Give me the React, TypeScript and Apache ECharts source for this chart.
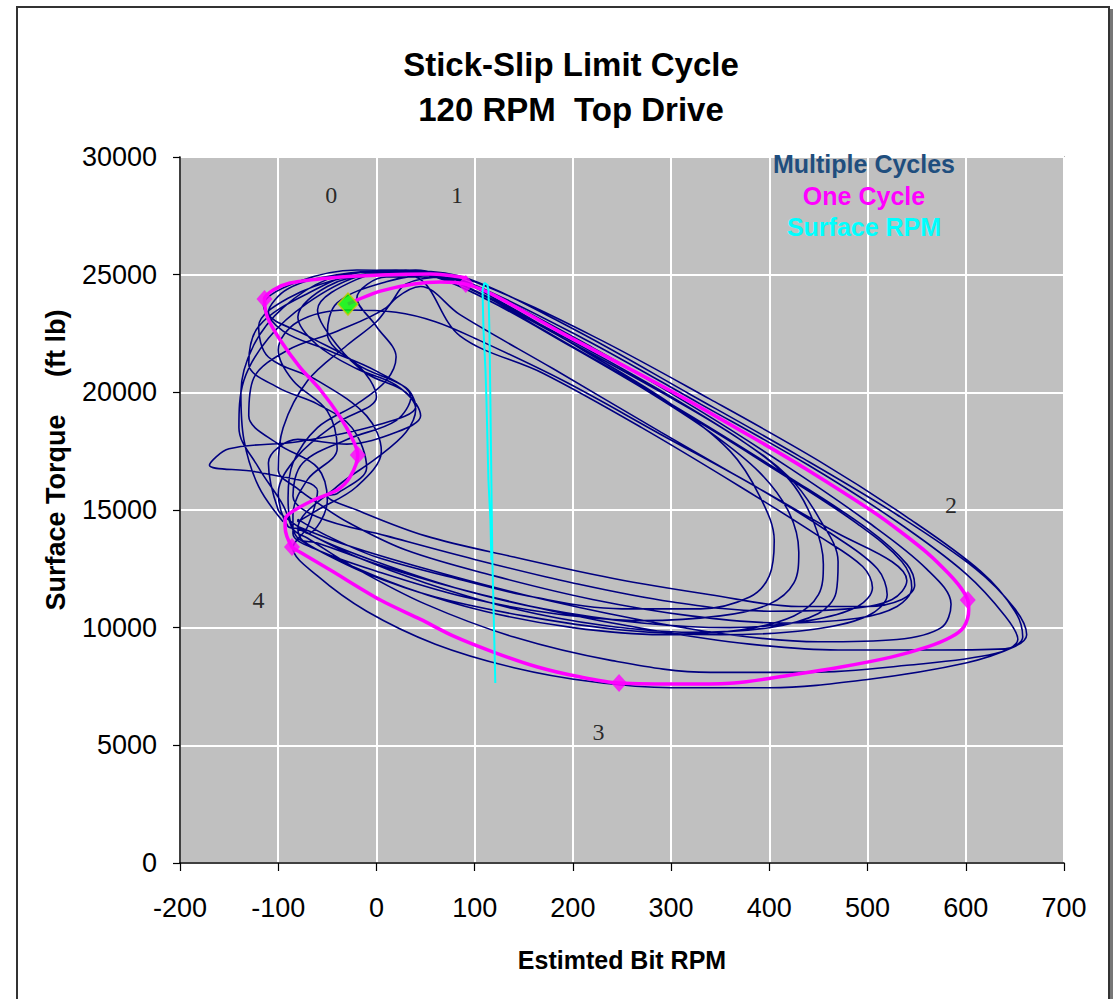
import React, { useEffect, useRef } from "react";
import * as echarts from "echarts";

// ---- Data ----
const cycle1: number[][] = [
  [-95, 14500], [-120, 16000], [-135, 18000], [-138, 20000], [-125, 22000], [-95, 23600], [-50, 24800], [0, 25150], [40, 25150],
  [95, 24800], [200, 22700], [320, 19900], [430, 17300], [530, 14800], [610, 12500], [650, 10800], [662, 9700], [650, 9200],
  [600, 8500], [500, 7800], [400, 7450], [300, 7450], [220, 7700], [140, 8300], [60, 9300], [-10, 10700], [-60, 12200], [-85, 13400],
];
const cycle2: number[][] = [
  [-70, 14300], [-60, 15800], [-120, 16600], [-170, 16900], [-150, 17600], [-80, 17900], [0, 18600], [40, 19400], [30, 20200],
  [-20, 21200], [-50, 22500], [-40, 23800], [10, 24700], [60, 25000],
  [100, 24700], [220, 22400], [340, 19700], [450, 17100], [540, 14700], [615, 12400], [650, 10700], [658, 9600], [640, 9100],
  [560, 9050], [470, 9050], [380, 9300], [280, 9900], [180, 10700], [80, 11700], [0, 12700], [-60, 13600],
];
const cycle3: number[][] = [
  [-80, 14200], [-40, 16000], [0, 17200], [30, 18300], [40, 19300], [20, 20300], [-20, 21000], [-60, 22000], [-80, 23200],
  [-50, 24500], [0, 25050], [50, 25100],
  [95, 24650], [210, 22300], [330, 19500], [440, 16900], [530, 14500], [600, 12300], [640, 10500], [653, 9500], [630, 8900],
  [540, 8400], [440, 8100], [340, 8100], [240, 8600], [140, 9600], [50, 11000], [-20, 12500], [-70, 13800],
];
const cycle4: number[][] = [
  [-85, 14200], [-90, 15500], [-85, 17000], [-60, 18500], [-20, 19500], [10, 20500], [20, 21500], [0, 22800], [-20, 24000],
  [10, 24900], [60, 24900],
  [110, 24300], [220, 21900], [330, 19200], [420, 16800], [500, 14500], [560, 12500], [585, 11000], [575, 10000], [530, 9500],
  [450, 9400], [360, 9700], [260, 10400], [150, 11400], [50, 12500], [-30, 13500], [-80, 14300],
];
const cycle5: number[][] = [
  [-80, 14500], [-60, 15000], [-20, 16000], [5, 17500], [-10, 19000], [-60, 20500], [-110, 21500], [-120, 22800], [-90, 24000],
  [-30, 24900], [30, 25100],
  [90, 24400], [200, 21900], [310, 19200], [410, 16600], [490, 14400], [535, 12800], [545, 11700], [530, 10900], [490, 10400],
  [410, 10200], [320, 10500], [220, 11200], [120, 12200], [30, 13300], [-30, 14500], [-60, 15300],
];
const cycle6: number[][] = [
  [-80, 15900], [-100, 16700], [-95, 18500], [-70, 20500], [-30, 22000], [0, 23000], [20, 24000], [45, 24500],
  [85, 23300], [180, 21000], [290, 18300], [390, 15900], [470, 14000], [525, 12800], [540, 12000], [525, 11200], [480, 10800],
  [400, 10700], [300, 11100], [200, 11900], [100, 12900], [10, 13900], [-60, 14700],
];
const cycle7: number[][] = [
  [-40, 15700], [-10, 16800], [-25, 18500], [-60, 19500], [-100, 20200], [-130, 21200], [-120, 22800], [-70, 24200],
  [-10, 25100], [40, 24900],
  [85, 22400], [170, 20800], [270, 18500], [370, 16000], [450, 13900], [495, 12600], [505, 11700], [490, 10900], [440, 10300],
  [360, 10000], [270, 10200], [170, 10800], [80, 11700], [0, 12800], [-60, 13800], [-90, 14600],
];
const cycle8: number[][] = [
  [-100, 15000], [-110, 17000], [-80, 18000], [-30, 17800], [20, 18300], [45, 19000], [30, 20000], [-10, 20800], [-40, 22000],
  [-60, 23500], [-20, 24800], [30, 25200],
  [80, 24700], [180, 22600], [280, 20300], [370, 18000], [420, 16400], [450, 14700], [470, 12800], [468, 11500], [450, 10600],
  [400, 10000], [320, 9800], [230, 10100], [140, 10800], [50, 11900], [-20, 13000], [-80, 14200],
];
const cycle9: number[][] = [
  [-90, 14300], [-100, 15700], [-80, 17300], [-40, 18700], [0, 19800], [-20, 21200], [-70, 22400], [-110, 23400], [-90, 24400],
  [-40, 25000], [20, 25200],
  [85, 24600], [180, 22400], [270, 20200], [340, 18300], [390, 16600], [420, 14900], [430, 13200], [425, 11900], [400, 11000],
  [350, 10500], [270, 10300], [180, 10600], [90, 11300], [0, 12400], [-60, 13300], [-85, 14000],
];
const cycle10: number[][] = [
  [-85, 14800], [-70, 16300], [-40, 17600], [-50, 19200], [-85, 20500], [-100, 21800], [-80, 23000], [-30, 23500], [20, 23400],
  [60, 23000],
  [100, 22300], [190, 20500], [290, 18200], [390, 15900], [470, 13800], [510, 12500], [520, 11400], [500, 10500], [440, 9900],
  [350, 9700], [250, 9900], [150, 10500], [60, 11300], [-10, 12300], [-60, 13300], [-80, 13800],
];
const cycle11: number[][] = [
  [-80, 13800], [-95, 15200], [-120, 16800], [-140, 18500], [-135, 20500], [-110, 22300], [-70, 23800], [-20, 24900], [40, 25200],
  [90, 24500], [190, 22300], [290, 20000], [370, 18000], [420, 16300], [445, 14500], [455, 12700], [450, 11400], [425, 10500],
  [370, 9900], [290, 9700], [200, 10000], [110, 10700], [30, 11700], [-40, 12900], [-75, 13700],
];
const cycle12: number[][] = [
  [-70, 14000], [-50, 15400], [-60, 16800], [-100, 17800], [-130, 19000], [-125, 20600], [-90, 21800], [-40, 22600], [10, 23600],
  [30, 24600], [70, 24900],
  [120, 24000], [210, 21800], [300, 19500], [360, 17500], [390, 15600], [405, 13700], [400, 12200], [380, 11300], [330, 10800],
  [250, 10800], [160, 11300], [80, 12100], [0, 13000], [-50, 13900], [-80, 14600],
];
const cycle13: number[][] = [
  [-85, 15600], [-75, 17000], [-30, 18000], [20, 18800], [35, 19800], [0, 20900], [-50, 21800], [-95, 22600], [-115, 23700],
  [-80, 24700], [-20, 25200], [40, 25100],
  [100, 24200], [210, 21700], [320, 19000], [420, 16400], [500, 14200], [540, 12700], [548, 11800], [535, 11200], [500, 10900],
  [430, 10900], [340, 11400], [240, 12100], [140, 13000], [50, 13900], [-20, 15000], [-50, 15600],
];
const multipleCycles: number[][] = [
  ...cycle1, ...cycle2, ...cycle11, ...cycle3, ...cycle4, ...cycle12, ...cycle5, ...cycle6, ...cycle13, ...cycle7, ...cycle8,
  ...cycle9, ...cycle10,
];

const oneCycle: number[][] = [
  [-29, 23750], [-20, 23920], [4, 24300], [38, 24600], [65, 24690], [91, 24600], [119, 24140], [187, 22560], [302, 20010],
  [391, 17890], [439, 16700], [506, 14915], [534, 14065], [561, 13170], [582, 12320], [595, 11690], [602, 11175], [603, 10750],
  [598, 10030], [585, 9600], [561, 9180], [524, 8750], [473, 8330], [422, 7990], [364, 7650], [317, 7605], [247, 7650],
  [208, 7900], [164, 8330], [119, 8965], [78, 9650], [45, 10350], [4, 11175], [-47, 12450], [-78, 13215], [-86, 13430],
  [-93, 14280], [-93, 14575], [-88, 14870], [-64, 15425], [-40, 15850], [-27, 16400], [-19, 17340], [-24, 17975], [-37, 18950],
  [-57, 20100], [-78, 21075], [-98, 22225], [-111, 23200], [-114, 23965], [-105, 24350], [-88, 24645], [-47, 24860],
  [4, 24985], [55, 25030], [92, 24860],
];
const oneCycleMarkers: number[][] = [
  [91, 24600], [602, 11175], [247, 7650], [-86, 13430], [-19, 17340], [-114, 23965],
];
const startPoint: number[][] = [[-29, 23750]];

const surfaceRpm: number[][] = [
  [121, 7650], [120, 9480], [118, 12880], [117, 16280], [116, 19670], [115, 22650], [114, 24350], [113, 24560], [110, 24650],
  [108, 24350], [109, 22650], [111, 20950], [112, 19670], [113, 17970], [114, 16280], [116, 14580], [117, 12880],
];

const stageNames = ["0", "1", "2", "3", "4"];
const stageX = [-46, 82, 585, 226, -120];
const stageY = [28385, 28385, 15212, 5567, 11176];

const legendNames = ["Multiple Cycles", "One Cycle", "Surface RPM"];
const legendColors = ["#1F4E7E", "#FF00FF", "#00FFFF"];

const SANS = '"Liberation Sans", Arial, sans-serif';
const SERIF = '"Liberation Serif", "Times New Roman", serif';

export default function App() {
  const ref = useRef<HTMLDivElement>(null);

  useEffect(() => {
    const chart = echarts.init(ref.current!, null, { renderer: "svg" });
    chart.setOption({
      animation: false,
      backgroundColor: "transparent",
      title: {
        text: "Stick-Slip Limit Cycle\n120 RPM  Top Drive",
        left: 566,
        top: 37,
        textAlign: "center",
        textStyle: { fontSize: 33, fontWeight: "bold", fontFamily: SANS, color: "#000", lineHeight: 45 },
      },
      grid: {
        left: 180,
        top: 157,
        width: 884,
        height: 706,
        show: true,
        backgroundColor: "#C0C0C0",
        borderColor: "#808080",
        borderWidth: 1.5,
      },
      xAxis: {
        type: "value",
        min: -200,
        max: 700,
        interval: 100,
        axisLine: { show: true, onZero: false, lineStyle: { color: "#000", width: 1.5 } },
        axisTick: { show: true, length: 8, lineStyle: { color: "#000", width: 1.2 } },
        axisLabel: { fontSize: 27, color: "#000", fontFamily: SANS, margin: 31, formatter: (v: number) => String(v) },
        splitLine: { show: true, lineStyle: { color: "#FFFFFF", width: 2 } },
      },
      yAxis: {
        type: "value",
        min: 0,
        max: 30000,
        interval: 5000,
        axisLine: { show: true, onZero: false, lineStyle: { color: "#000", width: 1.5 } },
        axisTick: { show: true, length: 7, lineStyle: { color: "#000", width: 1.2 } },
        axisLabel: { fontSize: 27, color: "#000", fontFamily: SANS, margin: 23, formatter: (v: number) => String(v) },
        splitLine: { show: true, lineStyle: { color: "#FFFFFF", width: 2 } },
      },
      graphic: [
        ...legendNames.map((name, i) => ({
          type: "text",
          x: 864,
          y: 164 + i * 31.5,
          z: 100,
          silent: true,
          style: {
            text: name,
            fill: legendColors[i],
            font: `bold 25px ${SANS}`,
            textAlign: "center",
            textVerticalAlign: "middle",
            align: "center",
            verticalAlign: "middle",
          },
        })),
        {
          type: "text",
          x: 622,
          y: 960,
          z: 100,
          silent: true,
          style: {
            text: "Estimted Bit RPM",
            fill: "#000",
            font: `bold 25px ${SANS}`,
            textAlign: "center",
            textVerticalAlign: "middle",
            align: "center",
            verticalAlign: "middle",
          },
        },
        {
          type: "text",
          x: 56,
          y: 460,
          z: 100,
          rotation: Math.PI / 2,
          silent: true,
          style: {
            text: "Surface Torque     (ft lb)",
            fill: "#000",
            font: `bold 27px ${SANS}`,
            textAlign: "center",
            textVerticalAlign: "middle",
            align: "center",
            verticalAlign: "middle",
          },
        },
      ],
      series: [
        {
          name: "Multiple Cycles",
          type: "line",
          data: multipleCycles,
          showSymbol: false,
          smooth: 0.35,
          lineStyle: { color: "#000080", width: 1.6 },
          z: 2,
        },
        {
          name: "One Cycle",
          type: "line",
          data: oneCycle,
          showSymbol: false,
          smooth: 0.3,
          lineStyle: { color: "#FF00FF", width: 3.5 },
          z: 3,
        },
        {
          name: "Surface RPM",
          type: "line",
          data: surfaceRpm,
          showSymbol: false,
          lineStyle: { color: "#00FFFF", width: 2 },
          z: 4,
        },
        {
          name: "One Cycle Points",
          type: "scatter",
          data: oneCycleMarkers,
          symbol: "diamond",
          symbolSize: [16, 18],
          itemStyle: { color: "#FF00FF" },
          z: 5,
        },
        {
          name: "Start",
          type: "scatter",
          data: startPoint,
          symbol: "diamond",
          symbolSize: [20, 22],
          itemStyle: { color: "#00FF00", borderColor: "#C8C800", borderWidth: 1.5 },
          z: 6,
        },
        {
          name: "Stages",
          type: "scatter",
          data: stageNames.map((n, i) => ({ name: n, value: [stageX[i], stageY[i]] })),
          symbolSize: 0,
          label: {
            show: true,
            position: "inside",
            formatter: "{b}",
            fontSize: 24,
            fontFamily: SERIF,
            color: "#000",
          },
          z: 7,
        },
      ],
    });
    return () => chart.dispose();
  }, []);

  return (
    <div style={{ position: "fixed", left: 0, top: 0, width: 1117, height: 999, background: "#fff", overflow: "hidden" }}>
      <div
        style={{
          position: "absolute",
          left: 16,
          top: 6,
          width: 1090,
          height: 1010,
          border: "2px solid #333",
          boxShadow: "3px 3px 0 #777",
          background: "#fff",
        }}
      />
      <div ref={ref} style={{ position: "absolute", left: 0, top: 0, width: 1117, height: 999 }} />
    </div>
  );
}
